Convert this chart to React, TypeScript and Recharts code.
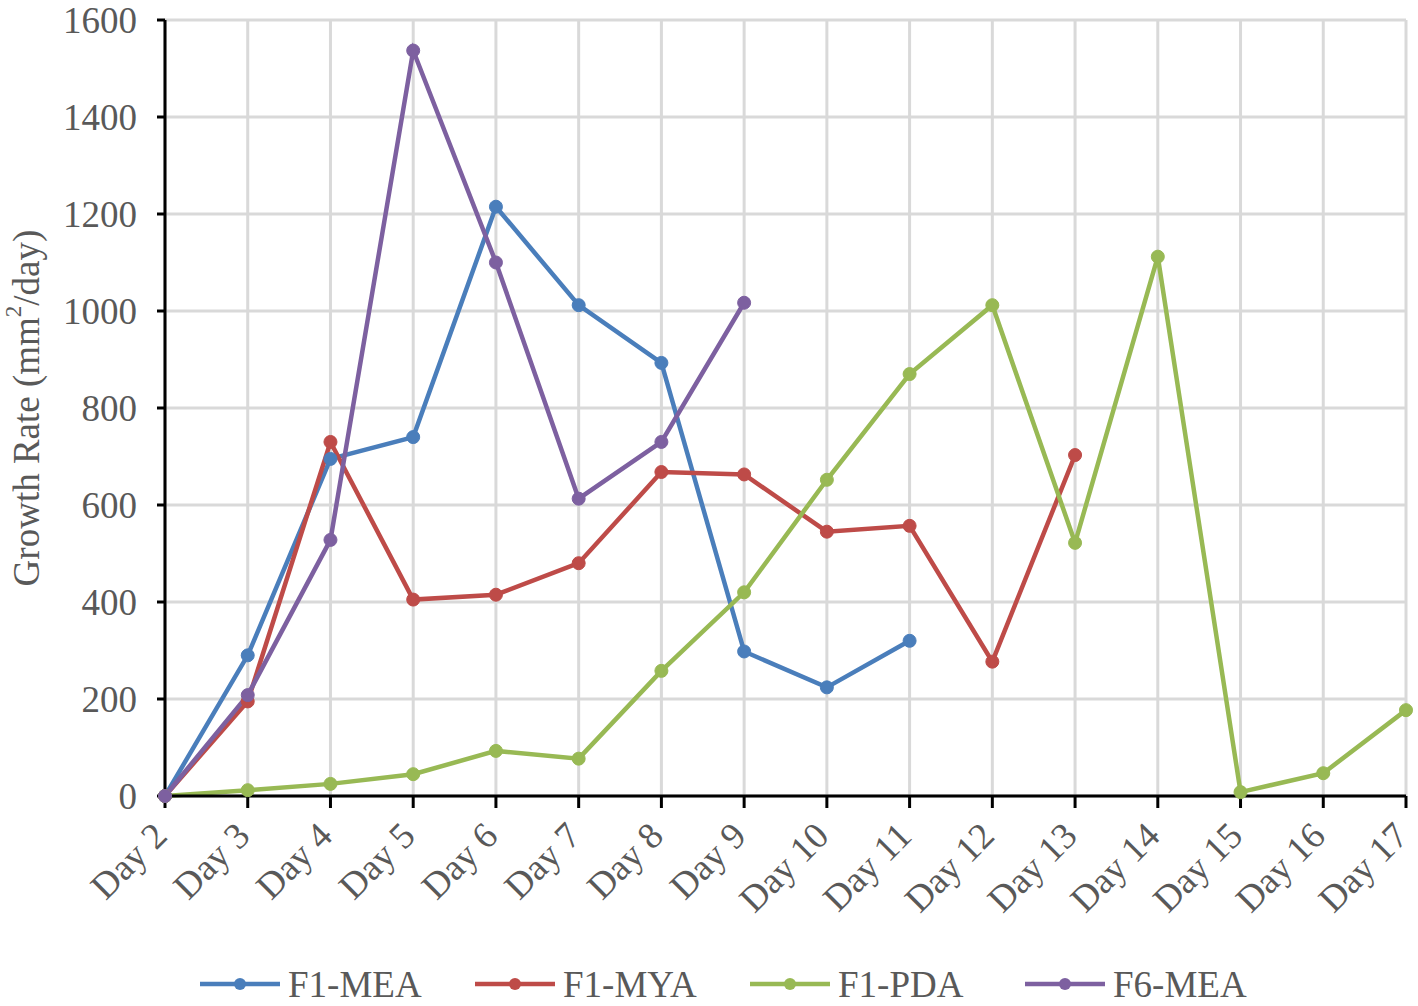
import React from 'react'
import { LineChart, Line, XAxis, YAxis, CartesianGrid, Legend } from 'recharts'

const days = ['Day 2', 'Day 3', 'Day 4', 'Day 5', 'Day 6', 'Day 7', 'Day 8', 'Day 9', 'Day 10', 'Day 11', 'Day 12', 'Day 13', 'Day 14', 'Day 15', 'Day 16', 'Day 17']
const f1Mea = [0, 290, 695, 740, 1215, 1012, 893, 298, 224, 320]
const f1Mya = [0, 195, 730, 405, 415, 480, 668, 663, 545, 557, 277, 703]
const f1Pda = [0, 12, 25, 45, 93, 77, 258, 420, 652, 870, 1012, 522, 1112, 8, 47, 177]
const f6Mea = [0, 208, 528, 1537, 1100, 613, 730, 1017]
const yTicks = [0, 200, 400, 600, 800, 1000, 1200, 1400, 1600]

const series = [
  { key: 'F1-MEA', values: f1Mea, color: '#4a7ebb' },
  { key: 'F1-MYA', values: f1Mya, color: '#be4b48' },
  { key: 'F1-PDA', values: f1Pda, color: '#98b954' },
  { key: 'F6-MEA', values: f6Mea, color: '#7d60a0' },
]

const data = days.map((d, i) => {
  const row: any = { day: d }
  series.forEach(s => {
    if (i < s.values.length) row[s.key] = s.values[i]
  })
  return row
})

const FONT = '"Liberation Serif", "Times New Roman", serif'
const GRAY = '#595959'

const DayTick = (props: any) => {
  const { x, y, payload } = props
  const ax = x + 4
  const ay = y + 28
  return (
    <text x={ax} y={ay} transform={`rotate(-45, ${ax}, ${ay})`} textAnchor="end" fill={GRAY} fontSize={37} fontFamily={FONT}>
      {payload.value}
    </text>
  )
}

const YLabel = (props: any) => {
  const vb = props.viewBox || { x: 0, y: 20, width: 165, height: 778 }
  const cx = 26
  const cy = vb.y + vb.height / 2
  return (
    <text x={cx} y={cy} transform={`rotate(-90, ${cx}, ${cy})`} textAnchor="middle" dominantBaseline="central" fill={GRAY} fontSize={37} fontFamily={FONT}>
      Growth Rate (mm<tspan baselineShift="super" fontSize={23}>2</tspan>/day)
    </text>
  )
}

const LegendContent = () => (
  <div style={{ display: 'flex', fontFamily: FONT, fontSize: 37, color: GRAY, height: 40, alignItems: 'center' }}>
    {series.map(s => (
      <div key={s.key} style={{ width: 275, display: 'flex', alignItems: 'center' }}>
        <svg width={82} height={20} style={{ marginRight: 7 }}>
          <line x1={1} y1={10} x2={81} y2={10} stroke={s.color} strokeWidth={4.5} />
          <circle cx={41} cy={10} r={6} fill={s.color} />
        </svg>
        <span>{s.key}</span>
      </div>
    ))}
  </div>
)

const App = () => {
  return (
    <div style={{ position: 'absolute', left: 0, top: 0, background: '#fff' }}>
      <LineChart width={1418} height={1006} data={data} margin={{ top: 20, right: 12, left: 0, bottom: 2 }}>
        <CartesianGrid stroke="#d9d9d9" strokeWidth={3} />
        <XAxis
          dataKey="day"
          interval={0}
          height={168}
          tick={<DayTick />}
          tickSize={12}
          tickLine={{ stroke: '#000', strokeWidth: 3 }}
          axisLine={{ stroke: '#000', strokeWidth: 3 }}
        />
        <YAxis
          domain={[0, 1600]}
          ticks={yTicks}
          interval={0}
          width={165}
          tickSize={8}
          tickMargin={20}
          tick={{ fill: GRAY, fontSize: 37, fontFamily: FONT }}
          tickLine={{ stroke: '#000', strokeWidth: 3 }}
          axisLine={{ stroke: '#000', strokeWidth: 3 }}
          label={<YLabel />}
        />
        <Legend verticalAlign="bottom" content={<LegendContent />} wrapperStyle={{ left: 199, width: 1100, height: 40, bottom: 2 }} />
        {series.map(s => (
          <Line
            key={s.key}
            dataKey={s.key}
            stroke={s.color}
            strokeWidth={4.5}
            dot={{ r: 6.5, fill: s.color, stroke: s.color, strokeWidth: 1 }}
            activeDot={false}
            isAnimationActive={false}
          />
        ))}
      </LineChart>
    </div>
  )
}

export default App
